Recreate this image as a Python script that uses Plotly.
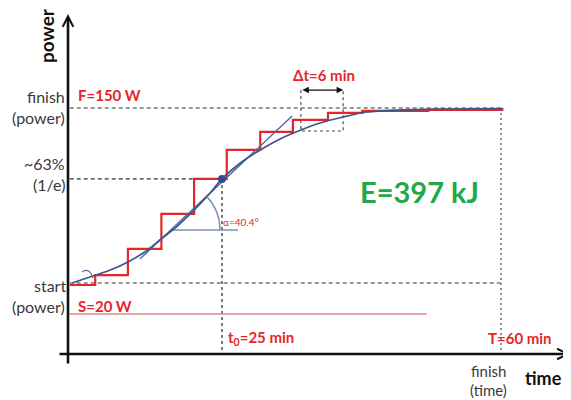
import plotly.graph_objects as go

# ---------------- data (time in min, power in W) ----------------
F_W = 150          # finish power
S_W = 20           # start power
P63_W = 97.3       # ~63 % level (1/e)
T0_MIN = 25        # time constant
T_END_MIN = 60     # finish time
DT_MIN = 6
E_KJ = 397
ALPHA_DEG = 40.4
BASE_W = -3.0      # thin pink reference line
BASE_END_MIN = 50.7
LINE_START_MIN = 5.9

# red staircase (step edges / step powers)
step_t = [5.9, 9.1, 13.2, 17.4, 21.5, 25.6, 29.8, 33.9, 38.3, 42.6, 50.9, 60.3]
step_p = [18.5, 25.9, 45.3, 71.3, 97.3, 118.9, 132.2, 141.1, 146.4, 147.8, 148.6]

# smooth blue curve
curve_t = [6.2, 8.8, 11.0, 13.2, 15.3, 17.2, 19.4, 21.4, 23.3, 25.0, 27.3, 29.8,
           32.3, 34.9, 37.3, 40.2, 43.2, 47.3, 53.6, 60.3]
curve_p = [20.0, 25.2, 29.6, 35.6, 43.0, 51.9, 62.3, 73.5, 85.4, 97.3, 109.1, 118.8,
           127.0, 133.6, 138.8, 143.3, 147.0, 148.5, 149.2, 149.6]

# tangent at t0
tan_t = [14.7, 33.8]
tan_p = [37.8, 144.0]

# angle reference line
ang_t = [18.7, 27.0]
ang_p = [59.4, 59.4]
ANG_VERTEX = (18.6, 59.4)

# delta-t box
dt_box_t = [34.9, 40.2]
dt_box_p = [132.9, 163.3]

# ---------------- pixel <-> data mapping (for layout only) ----------------
W, H = 571, 400
PAGE_OFF = 8      # default body margin of the html page
X0_PX, X_SCALE = 22.7, 7.971
Y0_PX, Y_SCALE = 309.9, 1.3462


def lx(px):
    return (px - X0_PX) / X_SCALE


def ly(py):
    return (Y0_PX - py) / Y_SCALE


RED = "#e4262a"
GREY_TXT = "#3a3a3a"
BLUE = "#3c5688"
FONT = "Lato"

fig = go.Figure()

def add_line(xs, ys, color, width, dash="solid"):
    fig.add_trace(go.Scatter(x=xs, y=ys, mode="lines",
                             line=dict(color=color, width=width, dash=dash),
                             hoverinfo="skip", showlegend=False))

AX_Y = ly(354)

# dashed reference lines
add_line([LINE_START_MIN, T_END_MIN], [F_W, F_W], "#333333", 1.1, "4px,3px")
add_line([LINE_START_MIN, T0_MIN], [P63_W, P63_W], "#333333", 1.1, "4px,3px")
add_line([LINE_START_MIN, T_END_MIN], [S_W, S_W], "#333333", 1.1, "4px,3px")
add_line([T0_MIN, T0_MIN], [P63_W, AX_Y], "#333333", 1.3, "3px,3px")
add_line([T_END_MIN, T_END_MIN], [F_W, AX_Y], "#777777", 1.6, "2px,3px")
# pink base line
add_line([LINE_START_MIN, BASE_END_MIN], [BASE_W, BASE_W], "#d98a8a", 1.4)
# delta-t box
add_line([dt_box_t[0], dt_box_t[0], dt_box_t[1], dt_box_t[1]],
         [dt_box_p[1], dt_box_p[0], dt_box_p[0], dt_box_p[1]], "#444444", 1.1, "3px,3px")

# red staircase
fig.add_trace(go.Scatter(x=step_t, y=step_p + [step_p[-1]], mode="lines",
                         line=dict(color=RED, width=2.2, shape="hv"),
                         hoverinfo="skip", showlegend=False))
# angle reference line
add_line(ang_t, ang_p, "#7b8fb3", 1.4)
# tangent
add_line(tan_t, tan_p, "#4a67a0", 1.4)
# blue curve
fig.add_trace(go.Scatter(x=curve_t, y=curve_p, mode="lines",
                         line=dict(color=BLUE, width=1.7, shape="spline", smoothing=0.8),
                         hoverinfo="skip", showlegend=False))
# dot at t0
fig.add_trace(go.Scatter(x=[T0_MIN], y=[P63_W], mode="markers",
                         marker=dict(color="#2f4c8c", size=8),
                         hoverinfo="skip", showlegend=False))

shapes = [
    # angle arc (pixel offsets around the vertex)
    dict(type="path", xref="x", yref="y", xsizemode="pixel", ysizemode="pixel",
         xanchor=ANG_VERTEX[0], yanchor=ANG_VERTEX[1],
         path="M49,0 C49,12.4 44.3,24.4 35.8,33.4",
         line=dict(color="#7b8fb3", width=1.4)),
    # small arc at the start
    dict(type="path", xref="x", yref="y", xsizemode="pixel", ysizemode="pixel",
         xanchor=curve_t[0], yanchor=curve_p[0],
         path="M10,11 Q17,16 21,5",
         line=dict(color="#4a67a0", width=1.2)),
]

ann = []
# axes arrows
ann.append(dict(x=lx(68), y=ly(14), ax=lx(68), ay=ly(365), xref="x", yref="y",
                axref="x", ayref="y", text="", showarrow=True, arrowhead=5,
                arrowsize=0.8, arrowwidth=2.6, arrowcolor="#111111"))
ann.append(dict(x=lx(570), y=AX_Y, ax=lx(58), ay=AX_Y, xref="x", yref="y",
                axref="x", ayref="y", text="", showarrow=True, arrowhead=5,
                arrowsize=0.8, arrowwidth=2.6, arrowcolor="#111111"))
# delta-t double arrow
ann.append(dict(x=dt_box_t[1], y=dt_box_p[1], ax=dt_box_t[0], ay=dt_box_p[1],
                xref="x", yref="y", axref="x", ayref="y", text="", showarrow=True,
                arrowhead=2, arrowside="end+start", arrowsize=1, arrowwidth=1.3,
                arrowcolor="#111111"))


def txt(text, px, py, size, color, bold=False, xanchor="center", angle=0):
    t = f"<b>{text}</b>" if bold else text
    ann.append(dict(x=lx(px), y=ly(py), xref="x", yref="y", text=t, showarrow=False,
                    xanchor=xanchor, yanchor="middle", textangle=angle,
                    font=dict(family=FONT, size=size, color=color)))


txt("power", 46, 36, 19, "#111111", bold=True, angle=-90)
txt("finish", 67, 96, 16, GREY_TXT, xanchor="right")
txt("(power)", 67, 117, 16, GREY_TXT, xanchor="right")
txt("~63%", 67, 163, 16, GREY_TXT, xanchor="right")
txt("(1/e)", 67, 184, 16, GREY_TXT, xanchor="right")
txt("start", 68, 285, 16, GREY_TXT, xanchor="right")
txt("(power)", 67, 306, 16, GREY_TXT, xanchor="right")
txt(f"F={F_W} W", 76, 95, 15, RED, bold=True, xanchor="left")
txt(f"S={S_W} W", 76, 306, 15, RED, bold=True, xanchor="left")
txt(f"t<sub>0</sub>={T0_MIN} min", 226, 338, 15, RED, bold=True, xanchor="left")
txt(f"T={T_END_MIN} min", 486, 338, 15, RED, bold=True, xanchor="left")
txt(f"Δt={DT_MIN} min", 324, 75, 15, RED, bold=True)
txt(f"E={E_KJ} kJ", 419, 191, 29, "#22a84a", bold=True)
txt(f"α={ALPHA_DEG}°", 221, 222, 10, RED, xanchor="left")
txt("finish", 488, 371, 15, GREY_TXT)
txt("(time)", 488, 390, 15, GREY_TXT)
txt("time", 543, 378, 18, "#111111", bold=True)

# the figure sits PAGE_OFF px from the page's top-left corner
fig.update_layout(
    width=W - PAGE_OFF, height=H - PAGE_OFF, autosize=False,
    margin=dict(l=0, r=0, t=0, b=0, pad=0),
    paper_bgcolor="white", plot_bgcolor="white",
    xaxis=dict(range=[lx(PAGE_OFF), lx(W)], visible=False, fixedrange=True),
    yaxis=dict(range=[ly(H), ly(PAGE_OFF)], visible=False, fixedrange=True),
    shapes=shapes, annotations=ann, showlegend=False,
)

fig.write_html("out.html")
